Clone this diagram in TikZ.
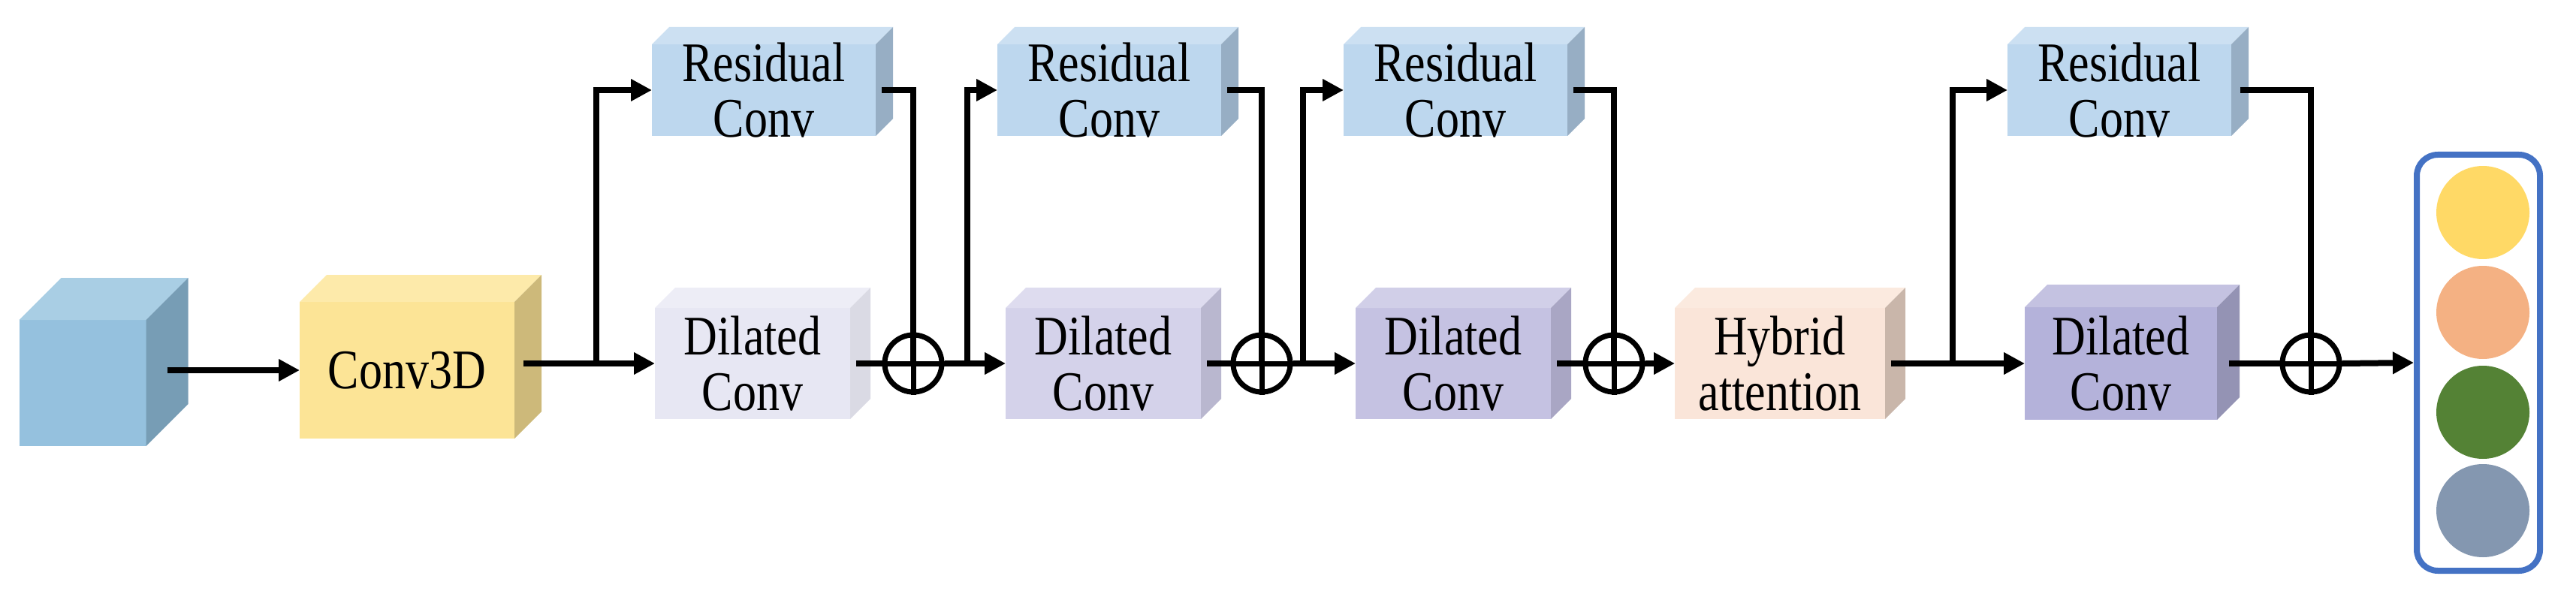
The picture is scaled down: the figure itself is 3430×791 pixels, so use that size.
\documentclass[tikz,border=0pt]{standalone}
\usepackage{fontspec}
\setmainfont{Liberation Serif}
\usetikzlibrary{arrows.meta}
\definecolor{inF}{HTML}{95C1DE}\definecolor{inT}{HTML}{A9CEE4}\definecolor{inS}{HTML}{779DB5}
\definecolor{cvF}{HTML}{FCE496}\definecolor{cvT}{HTML}{FDEAAA}\definecolor{cvS}{HTML}{CDB97A}
\definecolor{reF}{HTML}{BDD7EE}\definecolor{reT}{HTML}{CCE0F2}\definecolor{reS}{HTML}{97AEC4}
\definecolor{daF}{HTML}{E7E7F3}\definecolor{daT}{HTML}{EDEDF6}\definecolor{daS}{HTML}{DADAE4}
\definecolor{dbF}{HTML}{D4D2EA}\definecolor{dbT}{HTML}{DEDCEF}\definecolor{dbS}{HTML}{B9B7CF}
\definecolor{dcF}{HTML}{C5C2E2}\definecolor{dcT}{HTML}{D1CFE8}\definecolor{dcS}{HTML}{A9A6C4}
\definecolor{ddF}{HTML}{B4B2DA}\definecolor{ddT}{HTML}{C4C2E1}\definecolor{ddS}{HTML}{9493B4}
\definecolor{hyF}{HTML}{FAE5D9}\definecolor{hyT}{HTML}{FBEADF}\definecolor{hyS}{HTML}{C9B6AA}
\definecolor{obox}{HTML}{4472C4}
\tikzset{
  blk/.style={inner sep=0pt,outer sep=0pt},
  lbl/.style={align=center,font=\fontsize{31}{31}\selectfont,yscale=1.2,transform shape},
  arr/.style={line width=4pt,-{Triangle[length=14pt,width=14pt]}},
  ln/.style={line width=4pt},
  plus/.style={circle,draw,line width=3.5pt,minimum size=38pt,inner sep=0pt},
  dot/.style={circle,minimum size=62pt,inner sep=0pt}
}
\newcommand\blk[8]{%
  \node[blk,minimum width=#4*0.5pt,minimum height=#5*0.5pt,fill=#7F] (#1) at (#2,#3) {};
  \fill[#7T] (#1.north west) -- ++(#6,-#6) -- ([shift={(#6,-#6)}]#1.north east) -- (#1.north east) -- cycle;
  \fill[#7S] (#1.north east) -- ++(#6,-#6) -- ([shift={(#6,-#6)}]#1.south east) -- (#1.south east) -- cycle;
  \node[lbl] (#1t) at (#1.center) {#8};
}
\newcommand\plusnode[3]{%
  \node[plus] (#1) at (#2,#3) {};
  \draw[line width=3.5pt] (#1.north) -- (#1.south) (#1.west) -- (#1.east);
}
\begin{document}
\begin{tikzpicture}[x=0.5pt,y=-0.5pt]
\useasboundingbox (0,0) rectangle (3430,791);
\blk{in}{110}{510}{169}{168}{56}{in}{}
\blk{cv}{542}{493}{286}{182}{36}{cv}{Conv3D}
\blk{r1}{1017}{120}{298}{122}{23}{re}{Residual\\Conv}
\blk{r2}{1477}{120}{298}{122}{23}{re}{Residual\\Conv}
\blk{r3}{1938}{120}{298}{122}{23}{re}{Residual\\Conv}
\blk{r4}{2822}{120}{298}{122}{23}{re}{Residual\\Conv}
\blk{d1}{1002}{484}{260}{148}{27}{da}{Dilated\\Conv}
\blk{d2}{1469}{484}{260}{148}{27}{db}{Dilated\\Conv}
\blk{d3}{1935}{484}{260}{148}{27}{dc}{Dilated\\Conv}
\blk{hy}{2370}{484}{280}{148}{27}{hy}{Hybrid\\attention}
\blk{d4}{2824}{484}{256}{150}{30}{dd}{Dilated\\Conv}
\plusnode{p1}{1216}{484}
\plusnode{p2}{1680}{484}
\plusnode{p3}{2149}{484}
\plusnode{p4}{3077}{484}
\node[draw=obox,line width=4pt,rounded corners=14pt,minimum width=82pt,minimum height=277pt,inner sep=0pt] (out) at (3300,483) {};
\node[dot,fill={rgb,255:red,255;green,217;blue,102}] (o1) at (3306,283) {};
\node[dot,fill={rgb,255:red,244;green,177;blue,131}] (o2) at (3306,416) {};
\node[dot,fill={rgb,255:red,84;green,130;blue,53}] (o3) at (3306,549) {};
\node[dot,fill={rgb,255:red,132;green,151;blue,176}] (o4) at (3306,680) {};
\coordinate (b1) at (794,484);
\coordinate (b2) at (1288,484);
\coordinate (b3) at (1735,484);
\coordinate (b4) at (2600,484);
\draw[arr] ([xshift=14pt]in.east |- cv.west) -- (cv.west);
\draw[arr] ([xshift=6pt]cv.east |- d1.west) -- (d1.west);
\draw[arr] (b1) |- (r1.west);
\draw[ln] ([xshift=4pt]d1.east) -- (p1.west);
\draw[arr] (p1.east) -- (d2.west);
\draw[arr] (b2) |- (r2.west);
\draw[ln] ([xshift=4pt]d2.east) -- (p2.west);
\draw[arr] (p2.east) -- (d3.west);
\draw[arr] (b3) |- (r3.west);
\draw[ln] ([xshift=4pt]d3.east) -- (p3.west);
\draw[arr] (p3.east) -- (hy.west);
\draw[arr] ([xshift=4pt]hy.east) -- (d4.west);
\draw[arr] (b4) |- (r4.west);
\draw[ln] ([xshift=8pt]d4.east) -- (p4.west);
\draw[arr] (p4.east) -- (out.west);
\draw[ln] ([xshift=4pt]r1.east) -| (p1.center);
\draw[ln] ([xshift=4pt]r2.east) -| (p2.center);
\draw[ln] ([xshift=4pt]r3.east) -| (p3.center);
\draw[ln] ([xshift=6pt]r4.east) -| (p4.center);
\end{tikzpicture}
\end{document}
